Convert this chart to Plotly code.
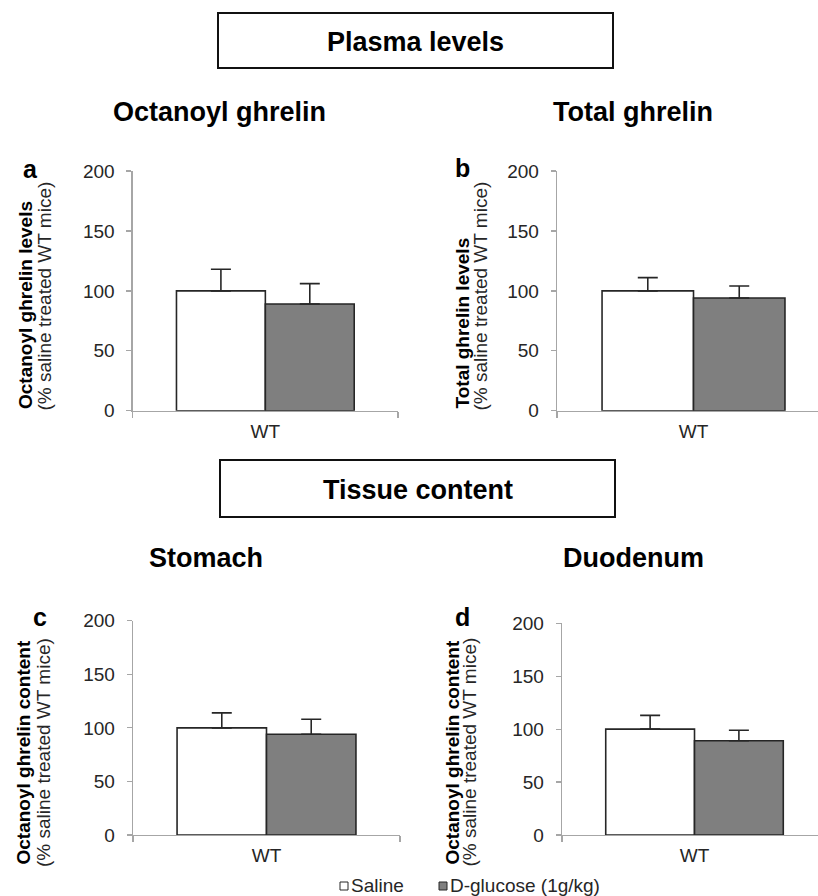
import plotly.graph_objects as go

W, H = 818, 896

categories = ["WT"]
groups = ["Saline", "D-glucose (1g/kg)"]
panel_letters = ["a", "b", "c", "d"]
panel_titles = ["Octanoyl ghrelin", "Total ghrelin", "Stomach", "Duodenum"]
ytitle_bold = ["Octanoyl ghrelin levels", "Total ghrelin levels",
               "Octanoyl ghrelin content", "Octanoyl ghrelin content"]
ytitle_sub = "(% saline treated WT mice)"
section_titles = ["Plasma levels", "Tissue content"]
y_ticks = [0, 50, 100, 150, 200]

saline_vals = [100, 100, 100, 100]
saline_err = [18, 11, 14, 13]
glucose_vals = [89, 94, 94, 89]
glucose_err = [17, 10, 14, 10]

FONT = "Liberation Sans, Arial, sans-serif"
AXC = "#a6a6a6"
DARK = "#262626"
fill_colors = ["#ffffff", "#7f7f7f"]


def px(x):
    return x / W


def py(y):
    return 1 - y / H


# panel geometry (pixels): x0, x1 of axis, y top (200), y bottom (0), x-range end
panels = [
    dict(x0=132.7, x1=398, yt=171, yb=410.7, rend=0.5),
    dict(x0=557, x1=818, yt=171, yb=410.7, rend=0.456),
    dict(x0=133, x1=400, yt=620.7, yb=835, rend=0.5),
    dict(x0=562, x1=818, yt=623.3, yb=835, rend=0.466),
]

fig = go.Figure()
layout = dict(
    width=W, height=H, margin=dict(l=0, r=0, t=0, b=0, autoexpand=False),
    paper_bgcolor="white", plot_bgcolor="white",
    showlegend=False, barmode="group", bargap=0.33, bargroupgap=0,
    font=dict(family=FONT, color=DARK),
)

vals = [saline_vals, glucose_vals]
errs = [saline_err, glucose_err]

for i, p in enumerate(panels):
    sfx = "" if i == 0 else str(i + 1)
    for g in range(2):
        fig.add_trace(go.Bar(
            x=categories, y=[vals[g][i]], name=groups[g],
            marker=dict(color=fill_colors[g], line=dict(color=DARK, width=1.6)),
            error_y=dict(type="data", symmetric=False, array=[errs[g][i]],
                         arrayminus=[0], color=DARK, thickness=1.6, width=10),
            xaxis="x" + sfx, yaxis="y" + sfx,
        ))
    layout["xaxis" + sfx] = dict(
        domain=[px(p["x0"]), px(p["x1"])], anchor="y" + sfx,
        type="category", range=[-0.5, p["rend"]],
        showline=True, linecolor=AXC, linewidth=1.3,
        ticks="outside", tickson="boundaries", ticklen=6, tickcolor=AXC,
        tickwidth=1.3, showgrid=False, zeroline=False,
        tickfont=dict(size=19, color=DARK, family=FONT), ticklabelstandoff=3,
        fixedrange=True, automargin=False,
    )
    layout["yaxis" + sfx] = dict(
        domain=[py(p["yb"]), py(p["yt"])], anchor="x" + sfx,
        range=[0, 200], tickvals=y_ticks,
        showline=True, linecolor=AXC, linewidth=1.3,
        ticks="outside", ticklen=5, tickcolor=AXC, tickwidth=1.3,
        showgrid=False, zeroline=False,
        tickfont=dict(size=19, color=DARK, family=FONT), ticklabelstandoff=8,
        fixedrange=True, automargin=False,
    )

annotations = []
shapes = []

# section boxes
boxes = [(218, 13, 613, 68), (220, 460, 615, 517)]
for (bx0, by0, bx1, by1), t in zip(boxes, section_titles):
    shapes.append(dict(type="rect", xref="paper", yref="paper",
                       x0=px(bx0), x1=px(bx1), y0=py(by1), y1=py(by0),
                       line=dict(color="#111111", width=2)))
    annotations.append(dict(text="<b>%s</b>" % t, xref="paper", yref="paper",
                            x=px((bx0 + bx1) / 2), y=py((by0 + by1) / 2 + 1),
                            xanchor="center", yanchor="middle", showarrow=False,
                            font=dict(size=27, color="#000000", family=FONT)))

# panel titles
title_pos = [(219.5, 112.5), (632.5, 112.5), (206, 558), (633.5, 558)]
for (tx, ty), t in zip(title_pos, panel_titles):
    annotations.append(dict(text="<b>%s</b>" % t, xref="paper", yref="paper",
                            x=px(tx), y=py(ty), xanchor="center", yanchor="middle",
                            showarrow=False,
                            font=dict(size=27, color="#000000", family=FONT)))

# panel letters
letter_pos = [(30.5, 168.6), (462.5, 168), (39.5, 616.6), (462.5, 616.6)]
for (lx, ly), t in zip(letter_pos, panel_letters):
    annotations.append(dict(text="<b>%s</b>" % t, xref="paper", yref="paper",
                            x=px(lx), y=py(ly), xanchor="center", yanchor="middle",
                            showarrow=False,
                            font=dict(size=25, color="#000000", family=FONT)))

# y-axis titles (two lines, left aligned = bottom aligned when rotated)
ytitle_pos = [(25, 44, 411), (462, 480, 411), (22.5, 43.5, 867), (451.5, 469, 867)]
for (bx, sx, yb), tb in zip(ytitle_pos, ytitle_bold):
    annotations.append(dict(text="<b>%s</b>" % tb, xref="paper", yref="paper",
                            x=px(bx), y=py(yb), xanchor="center", yanchor="bottom",
                            textangle=-90, showarrow=False,
                            font=dict(size=19, color="#000000", family=FONT)))
    annotations.append(dict(text=ytitle_sub, xref="paper", yref="paper",
                            x=px(sx), y=py(yb + 2), xanchor="center", yanchor="bottom",
                            textangle=-90, showarrow=False,
                            font=dict(size=19, color=DARK, family=FONT)))

# legend (squares + labels)
leg = [(340, 349), (439, 448)]
for (sq, tx), name, col in zip(leg, groups, fill_colors):
    shapes.append(dict(type="rect", xref="paper", yref="paper",
                       x0=px(sq), x1=px(sq + 8), y0=py(890), y1=py(882),
                       fillcolor=col, line=dict(color=DARK, width=1)))
    annotations.append(dict(text=name, xref="paper", yref="paper",
                            x=px(tx), y=py(885), xanchor="left", yanchor="middle",
                            showarrow=False,
                            font=dict(size=19, color=DARK, family=FONT)))

layout["annotations"] = annotations
layout["shapes"] = shapes
fig.update_layout(**layout)
fig.write_html(
    "out.html",
    config={"displayModeBar": False, "staticPlot": True},
    post_script="document.documentElement.style.margin='0';"
                "document.body.style.margin='0';"
                "document.body.style.overflow='hidden';",
)
